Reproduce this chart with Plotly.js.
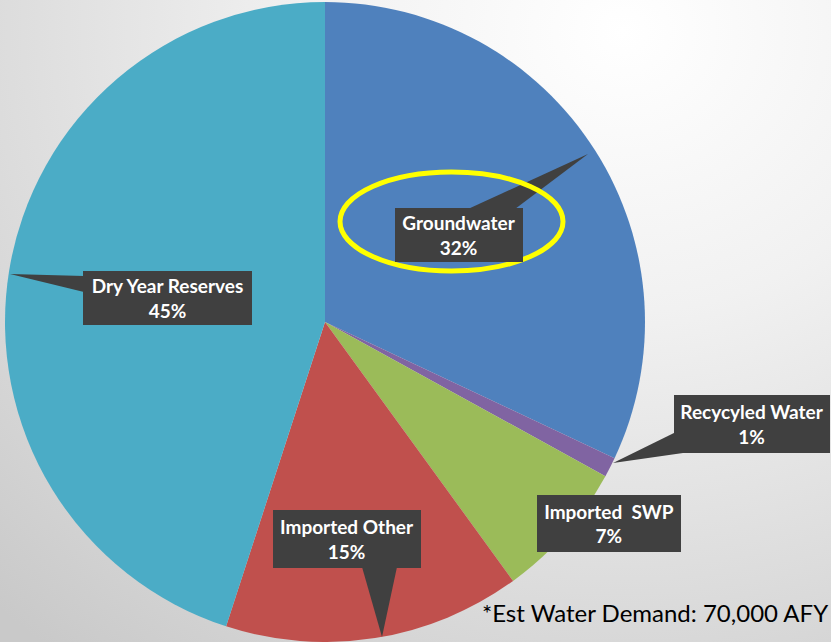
<!DOCTYPE html>
<html>
<head>
<meta charset="utf-8">
<script src="https://cdn.plot.ly/plotly-3.0.1.min.js"></script>
<style>
  html, body { margin: 0; padding: 0; }
  body {
    width: 831px; height: 642px; overflow: hidden;
    background: radial-gradient(ellipse 900px 800px at 75% 5%, #ffffff 0%, #f1f1f1 35%, #dcdcdc 70%, #c9c9c9 100%);
  }
  #chart { width: 831px; height: 642px; }
</style>
</head>
<body>
<div id="chart"></div>
<script>
// ---- data ----
const categories = ["Groundwater", "Recycyled Water", "Imported  SWP", "Imported Other", "Dry Year Reserves"];
const shares = [32, 1, 7, 15, 45];
const sliceColors = ["#4F81BD", "#8064A2", "#9BBB59", "#C0504D", "#4BACC6"];
const footnote = "*Est Water Demand: 70,000 AFY";

// ---- layout helpers (pixel -> paper) ----
const W = 831, H = 642;
const px = x => x / W;
const py = y => 1 - y / H;

// callout boxes: centre (px), size (px)
const boxes = [
  {cx: 459, cy: 235, w: 128, h: 54},
  {cx: 752, cy: 424, w: 156, h: 58},
  {cx: 609, cy: 523, w: 144, h: 57},
  {cx: 347, cy: 539, w: 148, h: 58},
  {cx: 167, cy: 298, w: 169, h: 54}
];
// callout pointer wedges (px)
const wedges = [
  [[468, 209], [515, 209], [588, 154]],
  [[676, 432], [690, 452], [613, 463]],
  null,
  [[362, 567], [397, 567], [382, 637]],
  [[84, 276], [84, 292], [10, 274]]
];

const pie = {
  type: "pie",
  labels: categories,
  values: shares,
  sort: false,
  direction: "clockwise",
  rotation: 0,
  textinfo: "none",
  hoverinfo: "skip",
  marker: {colors: sliceColors, line: {width: 0}},
  domain: {x: [px(5), px(645)], y: [py(642), py(2)]},
  showlegend: false
};

const shapes = [];
wedges.forEach(w => {
  if (!w) return;
  const d = "M " + w.map(p => px(p[0]) + " " + py(p[1])).join(" L ") + " Z";
  shapes.push({type: "path", xref: "paper", yref: "paper", path: d,
    fillcolor: "#404040", line: {width: 0}, layer: "above"});
});
// yellow highlight ellipse
shapes.push({type: "circle", xref: "paper", yref: "paper",
  x0: px(340), x1: px(563), y0: py(271), y1: py(172),
  line: {color: "#FFFF00", width: 5}, fillcolor: "rgba(0,0,0,0)", layer: "above"});

const annotations = categories.map((c, i) => {
  const b = boxes[i];
  const name = c.replace(/  /g, "\u00a0 ");
  return {
    xref: "paper", yref: "paper",
    x: px(b.cx), y: py(b.cy), xanchor: "center", yanchor: "middle",
    text: "<b>" + name + "</b><br><b>" + shares[i] + "%</b>",
    showarrow: false,
    bgcolor: "#404040",
    borderpad: 0,
    borderwidth: 0,
    width: b.w, height: b.h,
    align: "center", valign: "middle",
    font: {family: "Lato, 'Open Sans', sans-serif", size: 19, color: "#ffffff"}
  };
});
annotations.push({
  xref: "paper", yref: "paper", x: px(830), y: py(612),
  xanchor: "right", yanchor: "middle", showarrow: false,
  text: footnote,
  font: {family: "Lato, 'Open Sans', sans-serif", size: 24, color: "#000000"}
});

const layout = {
  width: W, height: H,
  margin: {l: 0, r: 0, t: 0, b: 0},
  paper_bgcolor: "rgba(0,0,0,0)",
  plot_bgcolor: "rgba(0,0,0,0)",
  showlegend: false,
  shapes: shapes,
  annotations: annotations
};

Plotly.newPlot("chart", [pie], layout, {displayModeBar: false, staticPlot: true});
</script>
</body>
</html>
